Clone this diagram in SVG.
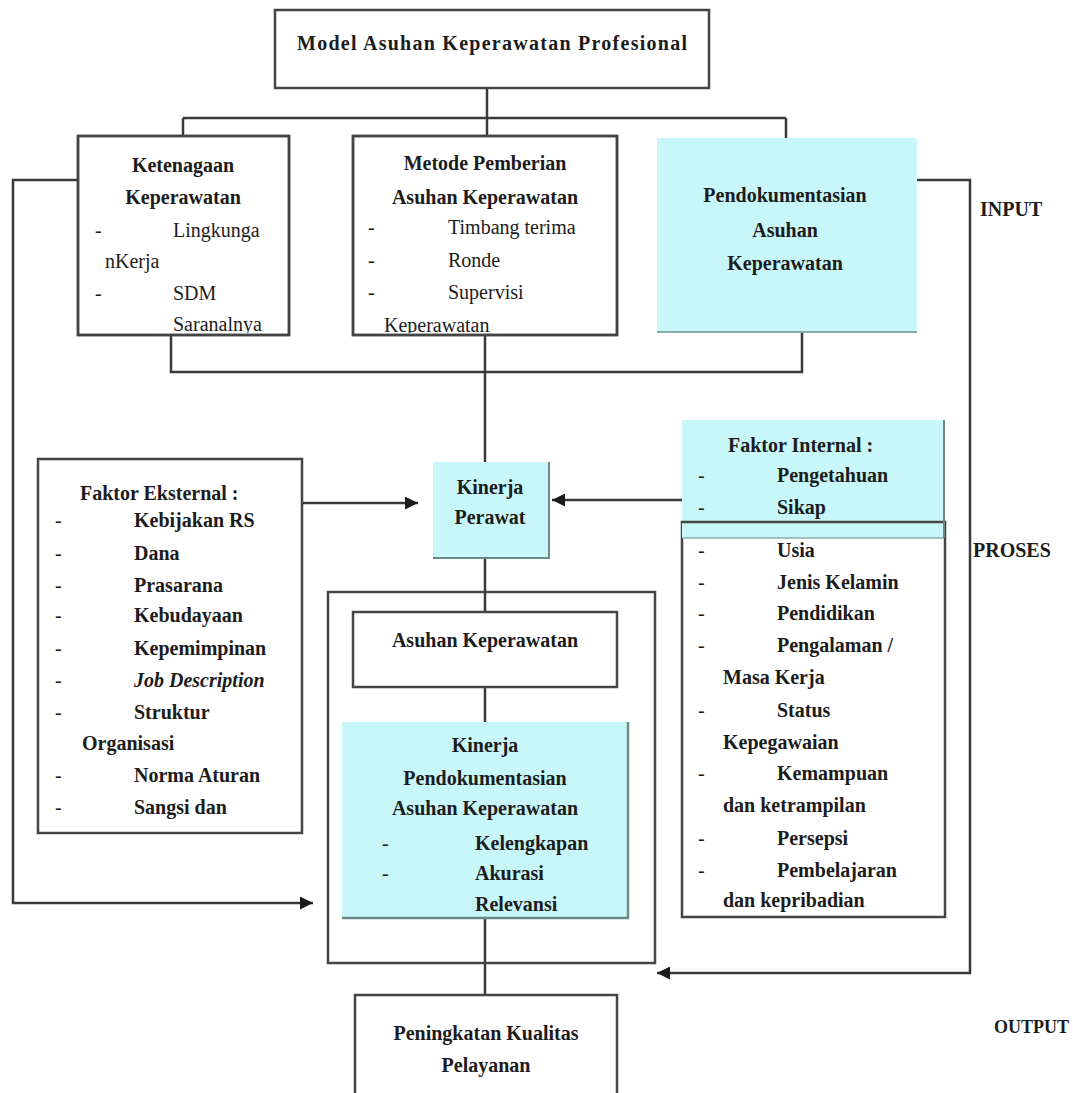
<svg xmlns="http://www.w3.org/2000/svg" width="1073" height="1093" viewBox="0 0 1073 1093">
<style>
.box{fill:#fff;stroke:#454545;stroke-width:2.5}
.cy{fill:#c8f7f9}
.ln{fill:none;stroke:#3a3a3a;stroke-width:2.5}
.t{font-family:'Liberation Serif','DejaVu Serif',serif;font-size:20px;font-weight:bold;fill:#1c1c1c}
.r{font-weight:normal}
.c{text-anchor:middle}
.lb{font-family:'Liberation Serif','DejaVu Serif',serif;font-weight:bold;fill:#1c1c1c}
</style>
<defs>
<marker id="ah" viewBox="0 0 10 10" refX="10" refY="5" markerWidth="14" markerHeight="13" markerUnits="userSpaceOnUse" orient="auto">
<path d="M0,0 L10,5 L0,10 z" fill="#1c1c1c"/>
</marker>
<clipPath id="cK"><rect x="79" y="137" width="209" height="196"/></clipPath>
<clipPath id="cM"><rect x="354" y="137" width="262" height="196"/></clipPath>
<clipPath id="cP"><rect x="342" y="722" width="286" height="190"/></clipPath>
</defs>
<rect width="1073" height="1093" fill="#fff"/>

<g id="connectors">
<path class="ln" d="M487,88 V118 M183,118 H786 M183,118 V137 M487,118 V137 M786,118 V142"/>
<path class="ln" d="M78,180 H13 V903 H313" marker-end="url(#ah)"/>
<path class="ln" d="M917,180 H970 V973 H657" marker-end="url(#ah)"/>
<path class="ln" d="M171,323 V372 H802 V320"/>
<path class="ln" d="M485,335 V462"/>
<path class="ln" d="M302,503 H418" marker-end="url(#ah)"/>
<path class="ln" d="M682,500 H552" marker-end="url(#ah)"/>
<path class="ln" d="M485,525 V612"/>
<path class="ln" d="M485,687 V722"/>
<path class="ln" d="M485,918 V995"/>
</g>

<g id="n-model">
<rect class="box" x="275" y="10" width="434" height="78"/>
<text class="t c" x="492" y="50" textLength="390" lengthAdjust="spacing">Model  Asuhan Keperawatan  Profesional</text>
</g>

<g id="n-ketenagaan">
<rect class="box" x="78" y="136" width="211" height="199"/>
<g clip-path="url(#cK)">
<text class="t c" x="183" y="172">Ketenagaan</text>
<text class="t c" x="183" y="204">Keperawatan</text>
<text class="t r" x="95" y="237">-</text>
<text class="t r" x="173" y="237">Lingkunga</text>
<text class="t r" x="105" y="268">nKerja</text>
<text class="t r" x="95" y="300">-</text>
<text class="t r" x="173" y="300">SDM</text>
<text class="t r" x="173" y="331">Saranalnya</text>
</g>
<rect x="78" y="136" width="211" height="199" fill="none" stroke="#454545" stroke-width="2.5"/>
</g>

<g id="n-metode">
<rect class="box" x="353" y="136" width="264" height="199"/>
<g clip-path="url(#cM)">
<text class="t c" x="485" y="170">Metode Pemberian</text>
<text class="t c" x="485" y="204">Asuhan Keperawatan</text>
<text class="t r" x="368" y="234">-</text>
<text class="t r" x="448" y="234">Timbang terima</text>
<text class="t r" x="368" y="267">-</text>
<text class="t r" x="448" y="267">Ronde</text>
<text class="t r" x="368" y="299">-</text>
<text class="t r" x="448" y="299">Supervisi</text>
<text class="t r" x="384" y="332">Keperawatan</text>
</g>
<rect x="353" y="136" width="264" height="199" fill="none" stroke="#454545" stroke-width="2.5"/>
</g>

<g id="n-pendokumentasian">
<rect class="cy" x="657" y="138" width="260" height="194"/>
<line x1="657" y1="332" x2="917" y2="332" stroke="#8aa" stroke-width="2"/>
<text class="t c" x="785" y="202">Pendokumentasian</text>
<text class="t c" x="785" y="237">Asuhan</text>
<text class="t c" x="785" y="270">Keperawatan</text>
</g>

<g id="n-kinerja-perawat">
<rect class="cy" x="433" y="462" width="116" height="96"/>
<path d="M549,462 V558 H433" fill="none" stroke="#6a8a8a" stroke-width="2"/>
<text class="t c" x="490" y="494">Kinerja</text>
<text class="t c" x="490" y="524">Perawat</text>
</g>

<g id="n-eksternal">
<rect class="box" x="38" y="459" width="264" height="374"/>
<text class="t" x="80" y="500">Faktor  Eksternal :</text>
<text class="t r" x="55" y="527">-</text><text class="t" x="134" y="527">Kebijakan RS</text>
<text class="t r" x="55" y="560">-</text><text class="t" x="134" y="560">Dana</text>
<text class="t r" x="55" y="592">-</text><text class="t" x="134" y="592">Prasarana</text>
<text class="t r" x="55" y="622">-</text><text class="t" x="134" y="622">Kebudayaan</text>
<text class="t r" x="55" y="655">-</text><text class="t" x="134" y="655">Kepemimpinan</text>
<text class="t r" x="55" y="687">-</text><text class="t" x="134" y="687" font-style="italic">Job Description</text>
<text class="t r" x="55" y="719">-</text><text class="t" x="134" y="719">Struktur</text>
<text class="t" x="82" y="750">Organisasi</text>
<text class="t r" x="55" y="782">-</text><text class="t" x="134" y="782">Norma Aturan</text>
<text class="t r" x="55" y="814">-</text><text class="t" x="134" y="814">Sangsi dan</text>
</g>

<g id="n-internal">
<rect class="box" x="682" y="522" width="263" height="395"/>
<rect class="cy" x="682" y="420" width="262" height="118"/>
<line x1="682" y1="522" x2="945" y2="522" stroke="#454545" stroke-width="2.5"/>
<line x1="682" y1="538" x2="944" y2="538" stroke="#8aa" stroke-width="1.5"/>
<line x1="944" y1="420" x2="944" y2="538" stroke="#6a8a8a" stroke-width="2"/>
<text class="t" x="728" y="452">Faktor  Internal :</text>
<text class="t r" x="698" y="482">-</text><text class="t" x="777" y="482">Pengetahuan</text>
<text class="t r" x="698" y="514">-</text><text class="t" x="777" y="514">Sikap</text>
<text class="t r" x="698" y="557">-</text><text class="t" x="777" y="557">Usia</text>
<text class="t r" x="698" y="589">-</text><text class="t" x="777" y="589">Jenis Kelamin</text>
<text class="t r" x="698" y="620">-</text><text class="t" x="777" y="620">Pendidikan</text>
<text class="t r" x="698" y="652">-</text><text class="t" x="777" y="652">Pengalaman /</text>
<text class="t" x="723" y="684">Masa Kerja</text>
<text class="t r" x="698" y="717">-</text><text class="t" x="777" y="717">Status</text>
<text class="t" x="723" y="749">Kepegawaian</text>
<text class="t r" x="698" y="780">-</text><text class="t" x="777" y="780">Kemampuan</text>
<text class="t" x="723" y="812">dan ketrampilan</text>
<text class="t r" x="698" y="845">-</text><text class="t" x="777" y="845">Persepsi</text>
<text class="t r" x="698" y="877">-</text><text class="t" x="777" y="877">Pembelajaran</text>
<text class="t" x="723" y="907">dan kepribadian</text>
</g>

<g id="n-proses-box">
<rect x="328" y="592" width="327" height="371" fill="none" stroke="#454545" stroke-width="2.5"/>
</g>

<g id="n-asuhan">
<rect class="box" x="353" y="612" width="264" height="75"/>
<text class="t c" x="485" y="647">Asuhan Keperawatan</text>
</g>

<g id="n-kinerja-pendok">
<rect class="cy" x="342" y="722" width="286" height="196"/>
<path d="M628,722 V918 H342" fill="none" stroke="#6a8a8a" stroke-width="2.5"/>
<g clip-path="url(#cP)">
<text class="t c" x="485" y="752">Kinerja</text>
<text class="t c" x="485" y="785">Pendokumentasian</text>
<text class="t c" x="485" y="815">Asuhan  Keperawatan</text>
<text class="t r" x="382" y="850">-</text><text class="t" x="475" y="850">Kelengkapan</text>
<text class="t r" x="382" y="880">-</text><text class="t" x="475" y="880">Akurasi</text>
<text class="t" x="475" y="911">Relevansi</text>
</g>
</g>

<g id="n-peningkatan">
<rect class="box" x="355" y="995" width="262" height="110"/>
<text class="t c" x="486" y="1040">Peningkatan  Kualitas</text>
<text class="t c" x="486" y="1072">Pelayanan</text>
</g>

<g id="labels">
<text class="lb" x="980" y="216" style="font-size:20px">INPUT</text>
<text class="lb" x="973" y="557" style="font-size:20px">PROSES</text>
<text class="lb" x="994" y="1033" style="font-size:18px">OUTPUT</text>
</g>
</svg>
